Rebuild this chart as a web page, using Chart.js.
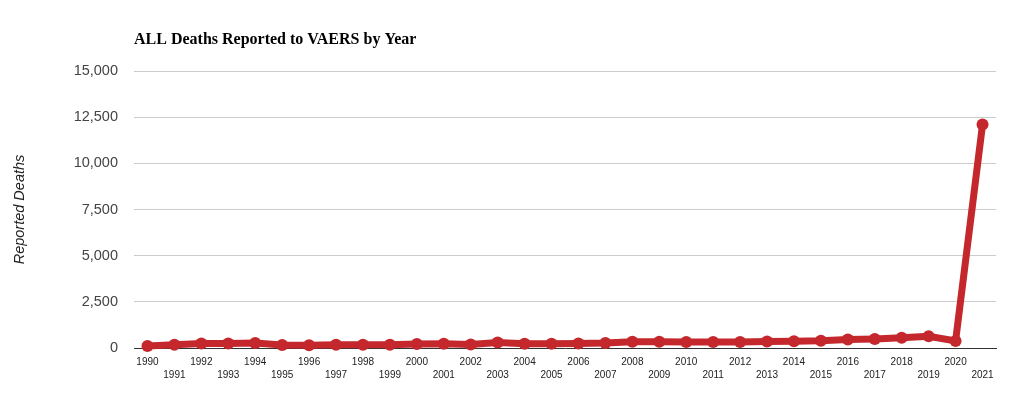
<!DOCTYPE html>
<html>
<head>
<meta charset="utf-8">
<script src="https://cdn.jsdelivr.net/npm/chart.js@4"></script>
<style>
html,body{margin:0;padding:0;background:#fff;}
#wrap{position:relative;width:1019px;height:398px;}
</style>
</head>
<body>
<div id="wrap"><canvas id="c" width="1019" height="398"></canvas></div>
<script>
const chartTitle = "ALL Deaths Reported to VAERS by Year";
const yAxisTitle = "Reported Deaths";
const years = ["1990","1991","1992","1993","1994","1995","1996","1997","1998","1999","2000","2001","2002","2003","2004","2005","2006","2007","2008","2009","2010","2011","2012","2013","2014","2015","2016","2017","2018","2019","2020","2021"];
const deaths = [110,175,240,240,270,160,150,175,180,180,215,235,195,300,225,225,240,270,340,340,325,330,330,350,370,395,455,490,550,630,380,12100];
const yTicksMax = 15000;
const yTickStep = 2500;

const titlePlugin = {
  id: 'leftTitle',
  afterDraw(chart) {
    const ctx = chart.ctx;
    ctx.save();
    ctx.font = 'bold 16px "Liberation Serif", "Times New Roman", serif';
    ctx.fillStyle = '#000';
    ctx.textBaseline = 'middle';
    ctx.textAlign = 'left';
    ctx.fillText(chartTitle, chart.chartArea.left, 40);
    ctx.restore();
  }
};

new Chart(document.getElementById('c'), {
  type: 'line',
  data: {
    labels: years,
    datasets: [{
      data: deaths,
      borderColor: '#c4282c',
      backgroundColor: '#c4282c',
      borderWidth: 7,
      pointRadius: 6,
      pointHoverRadius: 6,
      pointBorderWidth: 0,
      tension: 0,
      clip: false
    }]
  },
  options: {
    responsive: false,
    animation: false,
    devicePixelRatio: 1,
    layout: { padding: { top: 71, right: 23, bottom: 0, left: 0 } },
    plugins: { legend: { display: false }, tooltip: { enabled: false }, title: { display: false } },
    scales: {
      x: {
        offset: true,
        grid: { display: false, drawTicks: false },
        border: { display: true, color: '#333', width: 1 },
        ticks: {
          autoSkip: false,
          maxRotation: 0,
          minRotation: 0,
          padding: 7,
          color: '#222',
          font: { family: 'Arial, "Liberation Sans", sans-serif', size: 10, lineHeight: 1.37 },
          callback: function(v, i) { const l = this.getLabelForValue(v); return i % 2 ? ['', l] : l; }
        },
        afterFit(scale) { scale.height = 50; }
      },
      y: {
        min: 0,
        max: yTicksMax,
        ticks: {
          stepSize: yTickStep,
          color: '#444',
          padding: 16,
          font: { family: 'Arial, "Liberation Sans", sans-serif', size: 14.5 }
        },
        grid: {
          drawTicks: false,
          color: (c) => c.tick && c.tick.value === 0 ? 'rgba(0,0,0,0)' : '#cccccc',
          lineWidth: 1
        },
        border: { display: false },
        title: {
          display: true,
          text: yAxisTitle,
          color: '#222',
          font: { family: 'Arial, "Liberation Sans", sans-serif', size: 14.5, style: 'italic' },
          padding: { top: 11, bottom: 0 }
        },
        afterFit(scale) { scale.width = 134; }
      }
    }
  },
  plugins: [titlePlugin]
});
</script>
</body>
</html>
